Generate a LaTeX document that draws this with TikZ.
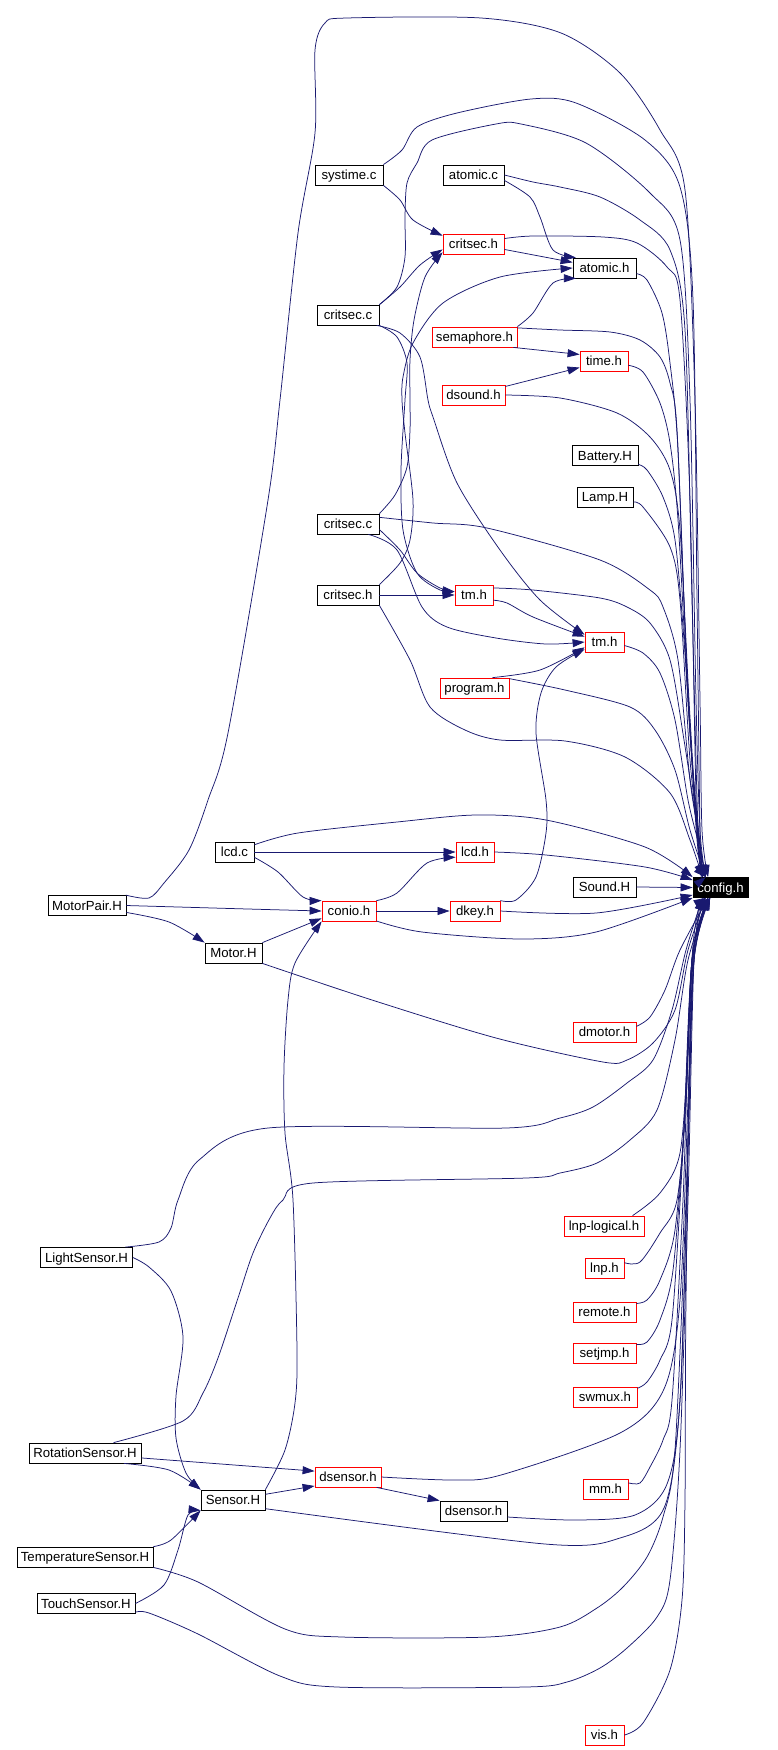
\documentclass[tikz,border=0pt]{standalone}
\usepackage{fontspec}
\setmainfont{Liberation Sans}
\usetikzlibrary{arrows.meta}
\definecolor{edgeblue}{RGB}{25,25,112}
\begin{document}
\begin{tikzpicture}[x=1pt,y=-1pt,
  nb/.style={draw=black, line width=0.8pt, rectangle, inner sep=0pt, minimum height=20pt,
     font=\fontsize{13.2}{15}\selectfont, text height=11pt, text depth=2pt},
  nr/.style={nb, draw=red},
  ncfg/.style={nb, fill=black, text=white},
  edge/.style={draw=edgeblue, line width=0.75pt, -{Triangle[length=12pt,width=8pt]}},
  sm/.style={smooth, tension=0.5}]
\useasboundingbox[fill=white] (0,0) rectangle (778,1750);
% nodes
\node[nb, minimum width=68] (systime) at (349,175) {systime.c};
\node[nb, minimum width=61] (atomicc) at (473.5,175) {atomic.c};
\node[nr, minimum width=61] (critsech) at (473.5,244) {critsec.h};
\node[nb, minimum width=63] (atomich) at (604.5,268) {atomic.h};
\node[nb, minimum width=62] (critsecca) at (348,315) {critsec.c};
\node[nr, minimum width=85] (semaphore) at (474.5,337) {semaphore.h};
\node[nr, minimum width=48] (timeh) at (604,361) {time.h};
\node[nr, minimum width=63] (dsound) at (473.5,395) {dsound.h};
\node[nb, minimum width=66] (battery) at (605,455.5) {Battery.H};
\node[nb, minimum width=56] (lamp) at (605,497) {Lamp.H};
\node[nb, minimum width=62] (critseccb) at (348,524) {critsec.c};
\node[nb, minimum width=62] (critsechb) at (348,595) {critsec.h};
\node[nr, minimum width=38] (tma) at (474,595) {tm.h};
\node[nr, minimum width=39] (tmb) at (604.5,642) {tm.h};
\node[nr, minimum width=69] (program) at (474.5,688) {program.h};
\node[nb, minimum width=39] (lcdc) at (234.5,852) {lcd.c};
\node[nr, minimum width=38] (lcdh) at (475,852) {lcd.h};
\node[nb, minimum width=63] (sound) at (604.5,887) {Sound.H};
\node[ncfg, minimum width=55] (config) at (720.5,887.5) {config.h};
\node[nb, minimum width=78] (motorpair) at (87,905.5) {MotorPair.H};
\node[nr, minimum width=54] (conio) at (349,911) {conio.h};
\node[nr, minimum width=50] (dkey) at (475,911) {dkey.h};
\node[nb, minimum width=57] (motor) at (233.5,953) {Motor.H};
\node[nr, minimum width=63] (dmotor) at (604.5,1032) {dmotor.h};
\node[nr, minimum width=80] (lnplogical) at (604,1226) {lnp-logical.h};
\node[nb, minimum width=92] (lightsensor) at (86.5,1257.5) {LightSensor.H};
\node[nr, minimum width=39] (lnp) at (604.5,1268) {lnp.h};
\node[nr, minimum width=63] (remote) at (604.5,1312) {remote.h};
\node[nr, minimum width=63] (setjmp) at (604.5,1353) {setjmp.h};
\node[nr, minimum width=64] (swmux) at (605,1397) {swmux.h};
\node[nb, minimum width=112] (rotation) at (85,1453) {RotationSensor.H};
\node[nr, minimum width=66] (dsensora) at (348,1477) {dsensor.h};
\node[nr, minimum width=45] (mm) at (605.5,1489) {mm.h};
\node[nb, minimum width=64] (sensor) at (233,1500) {Sensor.H};
\node[nb, minimum width=67] (dsensorb) at (473.5,1511) {dsensor.h};
\node[nb, minimum width=136] (temperature) at (85,1557) {TemperatureSensor.H};
\node[nb, minimum width=98] (touch) at (86,1603.5) {TouchSensor.H};
\node[nr, minimum width=39] (vis) at (604.5,1735) {vis.h};
% edges to config.h from above
\draw[edge] plot[sm] coordinates {(motorpair.15) (149,898) (164,883) (189,850) (208,800) (228,733) (268,500) (280,400) (298,233) (315,133) (315,50) (325,23) (347,18) (481,18) (561,33) (620,73) (660,130) (685,190) (695,400) (700,700) (702,830) (config.140)};
\draw[edge] plot[sm] coordinates {(systime.north east) (402,150) (417,127) (457,113) (531,99) (576,103) (645,140) (680,187) (693,300) (697,600) (700,830) (config.150)};
\draw[edge] plot[sm] coordinates {(critsecca.north east) (397,287) (405,257) (405,217) (407,183) (417,163) (432,140) (496,124) (521,124) (586,143) (650,193) (680,240) (690,400) (696,700) (700,830) (config.145)};
\draw[edge] plot[sm] coordinates {(atomicc.east) (533,182) (560,187) (600,197) (640,220) (670,250) (685,330) (692,600) (698,830) (config.150)};
\draw[edge] plot[sm] coordinates {(critsech.10) (533,236) (603,237) (637,243) (667,267) (680,300) (690,500) (697,830) (config.145)};
\draw[edge] plot[sm] coordinates {(atomich.-10) (647,280) (662,313) (670,363) (678,450) (688,700) (698,840) (config.150)};
\draw[edge] plot[sm] coordinates {(semaphore.12) (560,330) (610,332) (640,340) (660,357) (670,383) (677,430) (686,650) (697,840) (config.145)};
\draw[edge] plot[sm] coordinates {(timeh.-10) (643,372) (660,403) (670,443) (678,520) (688,700) (698,840) (config.150)};
\draw[edge] plot[sm] coordinates {(dsound.east) (560,398) (617,413) (650,437) (670,470) (680,530) (689,700) (698,840) (config.145)};
\draw[edge] plot[sm] coordinates {(battery.-15) (647,470) (663,497) (675,540) (684,640) (692,760) (700,845) (config.150)};
\draw[edge] plot[sm] coordinates {(lamp.-10) (643,507) (670,547) (680,600) (690,760) (700,845) (config.145)};
\draw[edge] plot[sm] coordinates {(critseccb.12) (433,523) (487,528) (600,560) (650,590) (663,607) (678,660) (690,780) (700,845) (config.150)};
\draw[edge] plot[sm] coordinates {(tma.20) (533,590) (600,598) (627,607) (650,623) (670,660) (684,740) (700,845) (config.145)};
\draw[edge] plot[sm] coordinates {(tmb.-10) (643,653) (660,673) (675,720) (688,800) (700,850) (config.150)};
\draw[edge] plot[sm] coordinates {(program.15) (565,690) (630,707) (655,730) (675,770) (690,830) (config.145)};
\draw[edge] plot[sm] coordinates {(critsechb.south east) (410,660) (430,707) (465,730) (500,740) (565,741) (625,757) (670,793) (690,840) (config.150)};
\draw[edge] plot[sm] coordinates {(lcdc.20) (298,833) (397,822) (476,815) (546,820) (645,847) (config.north west)};
\draw[edge] plot[sm] coordinates {(lcdh.east) (546,855) (645,867) (config.165)};
\draw[edge] (sound.east) -- (config.west);
% edges to config.h from below
\draw[edge] plot[sm] coordinates {(dkey.east) (596,913) (config.195)};
\draw[edge] plot[sm] coordinates {(conio.-20) (422,932) (521,939) (596,932) (config.south west)};
\draw[edge] plot[sm] coordinates {(motor.south east) (372,1000) (496,1038) (603,1062) (627,1060) (653,1043) (675,1010) (688,950) (config.215)};
\draw[edge] plot[sm] coordinates {(dmotor.10) (650,1017) (665,990) (680,950) (config.220)};
\draw[edge] plot[sm] coordinates {(lightsensor.15) (159,1242) (171,1228) (178,1200) (199,1160) (268,1128) (506,1128) (560,1118) (593,1107) (627,1083) (653,1060) (672,1010) (686,950) (config.210)};
\draw[edge] plot[sm] coordinates {(rotation.20) (183,1421) (203,1393) (218,1358) (238,1298) (253,1253) (270,1218) (283,1200) (313,1183) (526,1178) (560,1173) (597,1163) (630,1140) (657,1110) (675,1040) (688,960) (config.220)};
\draw[edge] plot[sm] coordinates {(lnplogical.20) (660,1193) (680,1153) (688,1050) (693,950) (config.225)};
\draw[edge] plot[sm] coordinates {(lnp.15) (640,1262) (660,1233) (677,1200) (686,1100) (692,960) (config.220)};
\draw[edge] plot[sm] coordinates {(remote.15) (647,1300) (660,1280) (675,1230) (686,1100) (693,960) (config.225)};
\draw[edge] plot[sm] coordinates {(setjmp.15) (647,1342) (660,1320) (673,1270) (684,1130) (692,960) (config.220)};
\draw[edge] plot[sm] coordinates {(swmux.15) (647,1382) (660,1360) (672,1320) (683,1150) (692,960) (config.225)};
\draw[edge] plot[sm] coordinates {(dsensora.east) (454,1480) (501,1475) (620,1433) (664,1389) (680,1300) (688,1100) (694,960) (config.220)};
\draw[edge] plot[sm] coordinates {(mm.15) (640,1483) (650,1467) (663,1440) (672,1400) (683,1200) (692,960) (config.225)};
\draw[edge] plot[sm] coordinates {(dsensorb.-10) (575,1520) (635,1515) (667,1484) (680,1400) (688,1150) (694,960) (config.220)};
\draw[edge] plot[sm] coordinates {(sensor.-15) (545,1544) (620,1538) (664,1508) (680,1400) (688,1150) (694,960) (config.225)};
\draw[edge] plot[sm] coordinates {(temperature.south east) (198,1582) (285,1629) (342,1637) (488,1637) (560,1627) (597,1608) (623,1587) (647,1557) (663,1517) (675,1450) (686,1200) (693,960) (config.215)};
\draw[edge] plot[sm] coordinates {(touch.-10) (149,1613) (198,1634) (280,1676) (337,1687) (525,1687) (567,1682) (600,1668) (627,1648) (657,1617) (670,1580) (680,1450) (688,1200) (694,960) (config.210)};
\draw[edge] plot[sm] coordinates {(vis.east) (643,1723) (670,1670) (682,1600) (685,1500) (686,1300) (692,960) (config.215)};
% internal edges
\draw[edge] plot[sm] coordinates {(systime.south east) (400,200) (413,220) (critsech.165)};
\draw[edge] plot[sm] coordinates {(critsecca.north east) (400,287) (420,265) (critsech.190)};
\draw[edge] plot[sm] coordinates {(critseccb.north east) (395,495) (407,467) (410,430) (410,400) (410,360) (414,320) (425,277) (critsech.195)};
\draw[edge] plot[sm] coordinates {(critsechb.north east) (400,563) (410,540) (413,500) (405,433) (402,400) (403,377) (413,343) (443,303) (500,277) (atomich.west)};
\draw[edge] plot[sm] coordinates {(critsecca.south east) (397,337) (407,363) (405,400) (401,470) (403,530) (417,573) (440,590) (tma.170)};
\draw[edge] plot[sm] coordinates {(critseccb.-10) (400,550) (417,573) (440,588) (tma.170)};
\draw[edge] (critsechb.east) -- (tma.west);
\draw[edge] plot[sm] coordinates {(critsecca.-20) (400,333) (420,357) (428,400) (433,417) (457,483) (500,550) (540,600) (tmb.160)};
\draw[edge] plot[sm] coordinates {(critseccb.-27) (397,550) (422,607) (447,627) (496,638) (546,644) (tmb.west)};
\draw[edge] plot[sm] coordinates {(tma.-15) (507,603) (533,617) (tmb.165)};
\draw[edge] plot[sm] coordinates {(program.30) (540,670) (tmb.195)};
\draw[edge] plot[sm] coordinates {(dkey.north east) (516,900) (536,877) (546,833) (546,800) (536,733) (541,693) (556,667) (tmb.200)};
\draw[edge] plot[sm] coordinates {(atomicc.-10) (530,197) (540,217) (553,250) (atomich.160)};
\draw[edge] (critsech.-10) -- (atomich.170);
\draw[edge] plot[sm] coordinates {(semaphore.north east) (533,313) (553,283) (atomich.200)};
\draw[edge] (semaphore.-15) -- (timeh.165);
\draw[edge] (dsound.15) -- (timeh.195);
\draw[edge] (lcdc.east) -- (lcdh.west);
\draw[edge] plot[sm] coordinates {(lcdc.-15) (278,872) (303,897) (conio.north west)};
\draw[edge] plot[sm] coordinates {(conio.north east) (397,893) (427,863) (lcdh.195)};
\draw[edge] (conio.east) -- (dkey.west);
\draw[edge] plot[sm] coordinates {(motorpair.east) (248,909) (conio.west)};
\draw[edge] plot[sm] coordinates {(motorpair.-10) (169,922) (motor.north west)};
\draw[edge] (motor.north east) -- (conio.195);
\draw[edge] plot[sm] coordinates {(sensor.north east) (285,1450) (295,1403) (297,1351) (293,1200) (285,1133) (284,1067) (288,1000) (295,963) (conio.south west)};
\draw[edge] plot[sm] coordinates {(lightsensor.east) (149,1267) (171,1291) (183,1337) (176,1396) (176,1438) (186,1473) (sensor.north west)};
\draw[edge] plot[sm] coordinates {(rotation.-15) (169,1470) (sensor.north west)};
\draw[edge] (rotation.-5) -- (dsensora.170);
\draw[edge] (sensor.10) -- (dsensora.195);
\draw[edge] (dsensora.-20) -- (dsensorb.north west);
\draw[edge] plot[sm] coordinates {(temperature.north east) (171,1540) (sensor.south west)};
\draw[edge] plot[sm] coordinates {(touch.east) (164,1585) (178,1550) (188,1515) (sensor.south west)};
\end{tikzpicture}
\end{document}
